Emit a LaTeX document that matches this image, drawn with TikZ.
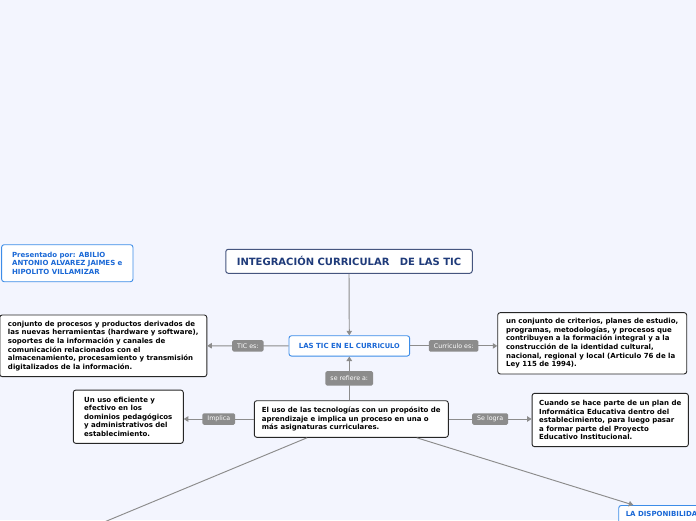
\documentclass[tikz,border=0pt]{standalone}
\usepackage{fontspec}
\setmainfont{DejaVu Sans}
\usepackage{xcolor}
\usetikzlibrary{arrows.meta}

\definecolor{bg}{HTML}{F3F5FE}
\definecolor{lgray}{HTML}{8C8C8C}
\definecolor{tblue}{HTML}{1A68D6}
\definecolor{bblue}{HTML}{3D8DE8}
\definecolor{tnavy}{HTML}{1F3B7A}
\definecolor{bnavy}{HTML}{45557F}

\tikzset{
  box/.style={draw=black!85, fill=white, rounded corners=2.5pt, line width=0.9pt,
    align=left, inner sep=2pt, font=\bfseries\fontsize{7}{8.6}\selectfont},
  bluebox/.style={box, draw=bblue, text=tblue},
  lbl/.style={fill=lgray, text=white, rounded corners=1.5pt, inner xsep=5pt,
    inner ysep=1pt, minimum height=11.5pt, font=\fontsize{6.3}{7}\selectfont},
  link/.style={draw=lgray, line width=0.95pt, -{Triangle[length=4.5pt,width=5.5pt]}}
}

\begin{document}
\begin{tikzpicture}[x=1pt,y=-1pt]
\useasboundingbox (0,0) rectangle (696,520);
\clip (0,0) rectangle (696,520);
\fill[bg] (0,0) rectangle (696,520);

\node[box, draw=bnavy, text=tnavy, line width=1pt, font=\bfseries\fontsize{10}{12}\selectfont,
  minimum width=246.5pt, minimum height=24pt](1) at(349,261.3){INTEGRACIÓN CURRICULAR\ \ \ DE LAS TIC};
\node[bluebox, minimum width=131.3pt, minimum height=37pt](0) at(67.3,263.2){Presentado por: ABILIO\\ANTONIO ALVAREZ JAIMES e\\HIPOLITO VILLAMIZAR};
\node[bluebox, align=center, minimum width=120.7pt, minimum height=20.3pt](2) at(349.3,345.9){LAS TIC EN EL CURR\raisebox{-0.8pt}{\fontsize{6.6}{7}\selectfont ICULO}};
\node[box, minimum width=207pt, minimum height=61.7pt](3) at(103.3,345.8){conjunto de procesos y productos derivados de\\las nuevas herramientas (hardware y software),\\soportes de la información y canales de\\comunicación relacionados con el\\almacenamiento, procesamiento y transmisión\\digitalizados de la información.};
\node[box, minimum width=189pt, minimum height=61.3pt](4) at(592.2,343.3){un conjunto de criterios, planes de estudio,\\programas, metodologías, y procesos que\\contribuyen a la formación integral y a la\\construcción de la identidad cultural,\\nacional, regional y local (Articulo 76 de la\\Ley 115 de 1994).};
\node[box, minimum width=194pt, minimum height=36.6pt](5) at(351.3,419){El uso de las tecnologías con un propósito de\\aprendizaje e implica un proceso en una o\\más asignaturas curriculares.};
\node[box, minimum width=110pt, minimum height=53.3pt](6) at(128.3,416.7){Un uso eficiente y\\efectivo en los\\dominios pedagógicos\\y administrativos del\\establecimiento.};
\node[box, minimum width=156.3pt, minimum height=53.3pt](7) at(610.2,420){Cuando se hace parte de un plan de\\Informática Educativa dentro del\\establecimiento, para luego pasar\\a formar parte del Proyecto\\Educativo Institucional.};
\node[bluebox, anchor=north west, inner xsep=7pt, inner ysep=6pt, text depth=26pt](8) at(618.3,505){LA DISPONIBILIDAD};
\coordinate(9) at(85,530);

\draw[link](1.south)--(2.north);
\draw[link](2.west)--(3.east) node[lbl,pos=0.5]{TIC es:};
\draw[link](2.east)--(4.west |- 2.east) node[lbl,pos=0.5]{Curriculo es:};
\draw[link](5.north -| 2.south)--(2.south) node[lbl,pos=0.5,minimum height=14.4pt]{se refiere a:};
\draw[link](5.west)--(6.east |- 5.west) node[lbl,pos=0.5]{Implica};
\draw[link](5.east)--(7.west |- 5.east) node[lbl,pos=0.5]{Se logra};
\draw[link](5.-16)--([xshift=15pt]8.north west);
\draw[draw=lgray, line width=0.95pt](5.-157.4)--(9);

\end{tikzpicture}
\end{document}
